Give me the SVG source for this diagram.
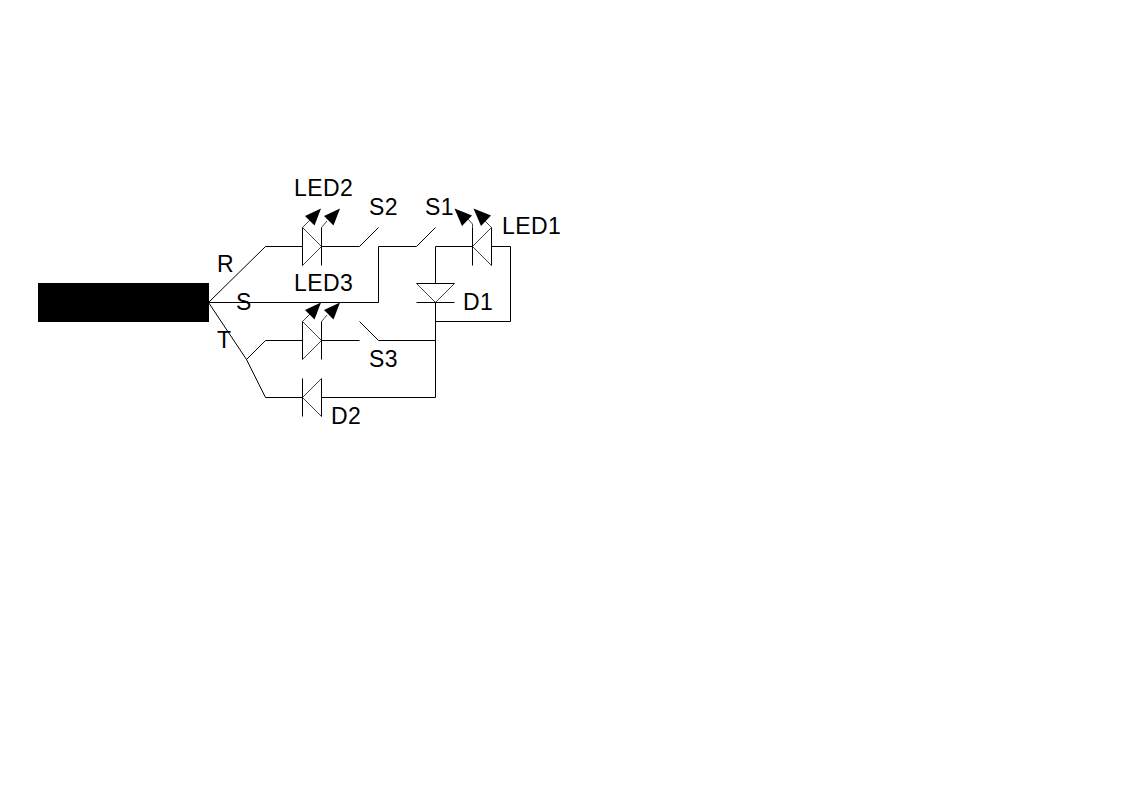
<svg xmlns="http://www.w3.org/2000/svg" width="1123" height="794" viewBox="0 0 1123 794">
<style>
.w{fill:none;stroke:#000;stroke-width:1}
.s{fill:none;stroke:#444;stroke-width:1}
.h{fill:#000;stroke:none}
text{font-family:"Liberation Sans",Arial,sans-serif;font-size:23px;letter-spacing:.4px;fill:#000}
</style>
<rect width="1123" height="794" fill="#fff"/>
<g id="connectors">
<path class="w" d="M208.500 302.500L265.500 246.500H302.500M321.500 246.500H359.500L378.500 227.500"/>
<path class="w" d="M208.500 302.500H378.500V246.500H416.500L435.500 227.500"/>
<path class="w" d="M208.500 302.500L246.500 359.500L265.500 397.500H302.500M246.500 359.500L265.500 340.500H302.500M321.500 340.500H359.500M359.500 321.500L378.500 340.500H435.500"/>
<path class="w" d="M435.500 283.500V246.500H472.500M491.500 246.500H510.500V321.500H435.500M435.500 302.500V397.500H321.500"/>
</g>
<g id="LED2">
<path class="s" d="M302.500 227.500L321.500 246.500L302.500 265.500M302.500 227.500L310 220M321.500 227.500L327 221"/>
<path class="w" d="M321.500 227.500V265.500M302.500 227.500V265.500"/>
<polygon class="h" points="321,208.500 314.500,225.500 305,216"/><polygon class="h" points="340,208.500 333.500,225.500 324,216"/>
<text x="294" y="196">LED2</text>
</g>
<g id="S2"><text x="369" y="215">S2</text></g>
<g id="S1"><text x="425" y="215">S1</text></g>
<g id="LED1">
<path class="s" d="M491.500 227.500L472.500 246.500L491.500 265.500M472.500 227.500V224L466 217M491.500 227.500L484 220"/>
<path class="w" d="M472.500 227.500V265.500M491.500 227.500V265.500"/>
<polygon class="h" points="454.500,208.500 472,215.500 462,226"/><polygon class="h" points="473.500,208.500 491,215.500 481,226"/>
<text x="502" y="234">LED1</text>
</g>
<g id="D1">
<path class="s" d="M416.500 283.500L435.500 302.500L454.500 283.500"/>
<path class="w" d="M416.500 283.500H454.500M416.500 302.500H454.500"/>
<text x="463" y="310">D1</text>
</g>
<g id="LED3">
<path class="s" d="M302.500 321.500L321.500 340.500L302.500 359.500M302.500 321.500L310 314M321.500 321.500L327 315"/>
<path class="w" d="M321.500 321.500V359.500M302.500 321.500V359.500"/>
<polygon class="h" points="321,302.500 314.500,319.500 305,310"/><polygon class="h" points="340,302.500 333.500,319.500 324,310"/>
<text x="294" y="291">LED3</text>
</g>
<g id="S3"><text x="369" y="367">S3</text></g>
<g id="D2">
<path class="s" d="M321.500 378.500L302.500 397.500L321.500 416.500"/>
<path class="w" d="M302.500 378.500V416.500M321.500 378.500V416.500"/>
<text x="331" y="424">D2</text>
</g>
<g id="connector-block"><rect x="38" y="283" width="171" height="39" fill="#000"/></g>
<g id="labels">
<text x="217" y="272">R</text>
<text x="236" y="310">S</text>
<text x="217" y="348">T</text>
</g>
</svg>
